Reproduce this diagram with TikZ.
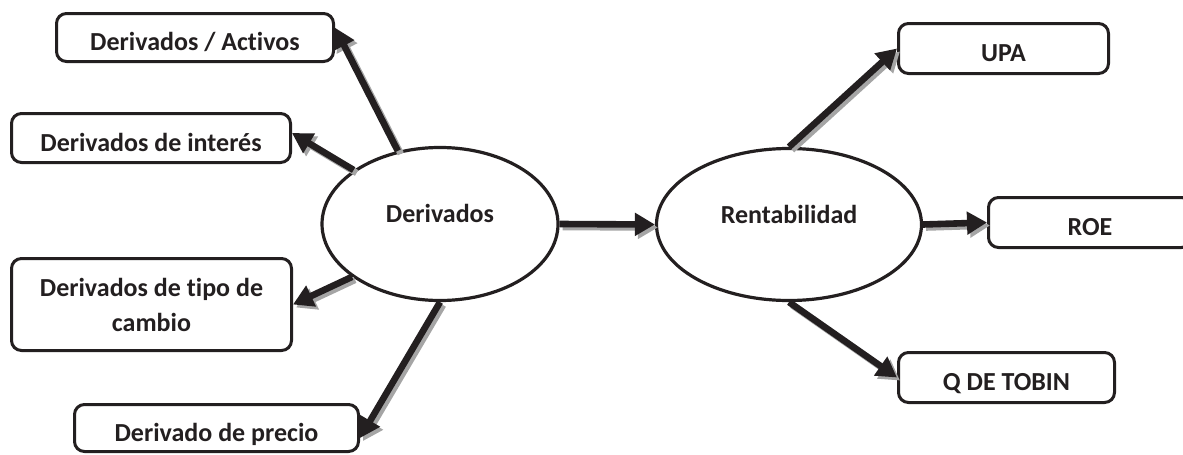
\documentclass[tikz,border=0pt]{standalone}
\usepackage{fontspec}
\setmainfont{Carlito}[Ligatures=NoCommon]
\usetikzlibrary{arrows.meta,shapes.geometric}
\definecolor{ink}{RGB}{35,31,32}
\definecolor{shade}{RGB}{165,165,165}
\tikzset{
    idea/.style ={ellipse, draw=ink, line width=1.6pt, inner sep=0pt, text=ink,
        font=\fontsize{13}{15}\selectfont\bfseries, text height=8.5pt, text depth=9.6pt},
    item/.style = {rectangle, rounded corners=5pt, draw=ink, line width=1.5pt, text=ink,
        font=\fontsize{13}{15}\selectfont\bfseries, align=center},
    oneline/.style = {text height=13.4pt, text depth=0pt},
    link/.style={draw=ink, line width=3.3pt, -{Triangle[length=10pt,width=11pt]},
        preaction={draw=shade, line width=3.3pt, -{Triangle[length=10pt,width=11pt]},
            transform canvas={shift={(1.5pt,-1.5pt)}}}}
}

\begin{document}
\begin{tikzpicture}[x=0.5pt,y=-0.5pt]
        \useasboundingbox (0,0) rectangle (1183,455);
        % The two central ideas
        \node[idea, minimum width=118pt, minimum height=76.5pt] (der) at (440,224) {Derivados};
        \node[idea, minimum width=132.5pt, minimum height=76pt] (ren) at (789,224.5) {Rentabilidad};
        % Kinds of derivatives
        \node[item, oneline, minimum width=138.5pt, minimum height=24pt] (act) at (195,37.5) {Derivados / Activos};
        \node[item, oneline, minimum width=139.5pt, minimum height=24.5pt] (int) at (151,138) {Derivados de interés};
        \node[item, minimum width=140pt, minimum height=46pt, font=\fontsize{13}{17.5}\selectfont\bfseries] (tipo) at (151.5,304.5) {Derivados de tipo de\\cambio};
        \node[item, oneline, minimum width=142pt, minimum height=23.5pt] (precio) at (216.5,428) {Derivado de precio};
        % Measures of profitability
        \node[item, oneline, minimum width=105pt, minimum height=25pt] (upa) at (1003.5,48.5) {UPA};
        \node[item, oneline, minimum width=101.5pt, minimum height=25pt] (roe) at (1090,222.5) {ROE};
        \node[item, oneline, minimum width=108pt, minimum height=25pt] (tobin) at (1006.5,377.5) {Q DE TOBIN};
        % Arrows out of Derivados
        \path (der.120) edge[link] (act.4);
        \path (der.148) edge[link] (int.2);
        \path (der.211) edge[link] (tipo.east);
        \path (der.south) edge[link] (precio.-4);
        \path (der.east) edge[link] (ren.west);
        % Arrows out of Rentabilidad
        \path (ren.north) edge[link] (upa.west);
        \path (ren.east) edge[link] (roe.west);
        \path (ren.south) edge[link] (tobin.west);
    \end{tikzpicture}
\end{document}
